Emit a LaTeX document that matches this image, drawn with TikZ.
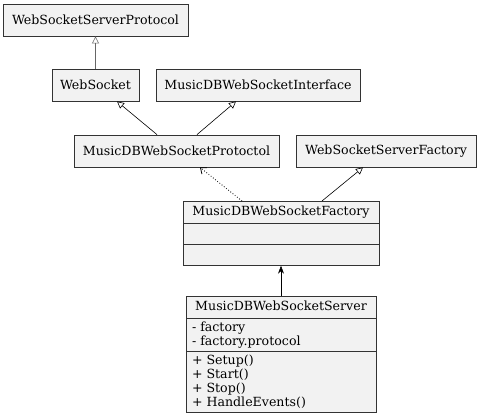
\documentclass[tikz,border=0pt]{standalone}
\usepackage{fontspec}
\setmainfont{DejaVu Serif}
\usetikzlibrary{shapes.multipart,arrows.meta}

\tikzset{
  cls/.style={draw=black!80, fill=gray!10, line width=0.8pt, inner sep=0pt,
    minimum height=32pt, font=\fontsize{12.6}{14}\selectfont},
  umlcls/.style={draw=black!80, fill=gray!10, line width=0.8pt,
    rectangle split, rectangle split parts=3, align=left,
    rectangle split part align={center,left,left},
    inner xsep=6pt, inner ysep=3pt, minimum width=#1,
    font=\fontsize{12.6}{14}\selectfont},
  inherit/.style={-{Triangle[open,length=7pt,width=7pt]}, line width=0.6pt},
  uses/.style={dotted, line width=0.8pt, -{Straight Barb[length=5pt,width=8pt]}},
  owns/.style={-{Stealth[length=8pt,width=6pt]}, line width=0.6pt}
}
\newcommand{\emptypart}{\rule{0pt}{14pt}}
\newcommand{\titlestrut}{\rule[-4.5pt]{0pt}{15.5pt}}

\begin{document}
\begin{tikzpicture}[x=1pt,y=-1pt]
  \useasboundingbox (0,0) rectangle (480,417);

  % Base classes
  \node[cls, minimum width=185pt] (wssp) at (95.5,20) {WebSocketServerProtocol};
  \node[cls, minimum width=87pt] (ws) at (95.5,85) {WebSocket};
  \node[cls, minimum width=204pt] (iface) at (258,85) {MusicDBWebSocketInterface};
  \node[cls, minimum width=205pt] (proto) at (176.5,151) {MusicDBWebSocketProtoctol};
  \node[cls, minimum width=180pt] (wssf) at (386,151) {WebSocketServerFactory};

  % UML classes with members
  \node[umlcls=196pt, anchor=north] (factory) at (281,201)
    {\titlestrut MusicDBWebSocketFactory
     \nodepart{second}\emptypart
     \nodepart{third}\emptypart};
  \node[umlcls=190pt, anchor=north] (server) at (281,296)
    {\titlestrut MusicDBWebSocketServer
     \nodepart{second}- factory\\- factory.protocol
     \nodepart{third}+ Setup()\\+ Start()\\+ Stop()\\+ HandleEvents()};

  % Inheritance
  \draw[inherit, black!60] (ws.north) -- (wssp.south);
  \draw[inherit] ([xshift=-19.5pt]proto.north) -- ([xshift=21.5pt]ws.south);
  \draw[inherit] ([xshift=20.5pt]proto.north) -- ([xshift=-22pt]iface.south);
  \draw[inherit] ([xshift=41pt]factory.north) -- ([xshift=-23pt]wssf.south);

  % Usage
  \draw[uses] ([xshift=-39pt]factory.north) -- ([xshift=23.5pt]proto.south);
  \draw[owns] (server.north) -- (factory.south);

\end{tikzpicture}
\end{document}
